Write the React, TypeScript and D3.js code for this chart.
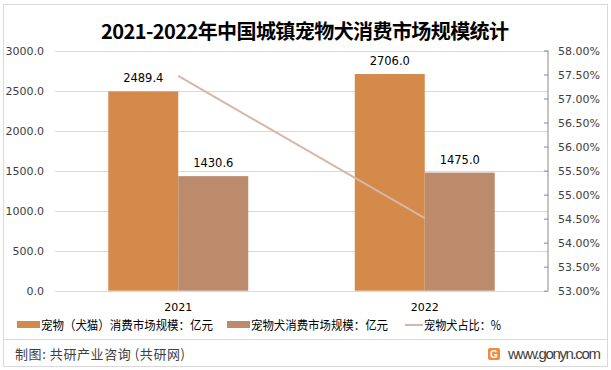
import React, { useEffect, useRef } from "react";
import * as d3 from "d3";

const years = ["2021", "2022"];
const petMarket = [2489.4, 2706.0];
const dogMarket = [1430.6, 1475.0];
const dogShare = [57.47, 54.51];
const leftTicks = [0, 500, 1000, 1500, 2000, 2500, 3000];
const rightTicks = [53, 53.5, 54, 54.5, 55, 55.5, 56, 56.5, 57, 57.5, 58];
const seriesNames = ["宠物（犬猫）消费市场规模：亿元", "宠物犬消费市场规模：亿元", "宠物犬占比：%"];

const W = 611;
const H = 370;
const font = "'Microsoft YaHei', 'Noto Sans CJK SC', sans-serif";
const numFont = "Verdana, 'DejaVu Sans', sans-serif";

const App = () => {
  const svgRef = useRef<SVGSVGElement>(null);

  useEffect(() => {
    const svg = d3.select(svgRef.current);
    svg.selectAll("*").remove();

    const left = 55;
    const right = 548;
    const top = 50.5;
    const bottom = 290.7;

    // 外框
    svg
      .append("rect")
      .attr("x", 3.5)
      .attr("y", 4.5)
      .attr("width", 604)
      .attr("height", 362)
      .attr("fill", "white")
      .attr("stroke", "#d9d9d9");

    // 标题
    svg
      .append("text")
      .attr("x", 305)
      .attr("y", 39)
      .attr("text-anchor", "middle")
      .attr("textLength", 408)
      .style("font-family", font)
      .style("font-size", "20px")
      .style("font-weight", "bold")
      .attr("fill", "#000")
      .text("2021-2022年中国城镇宠物犬消费市场规模统计");

    const x = d3.scaleBand().domain(years).range([left, right]);
    const y = d3.scaleLinear().domain([0, 3000]).range([bottom, top]);
    const y2 = d3.scaleLinear().domain([53, 58]).range([bottom, top]);
    const barW = 70;

    // 网格线
    svg
      .append("g")
      .selectAll("line")
      .data(leftTicks)
      .enter()
      .append("line")
      .attr("x1", left)
      .attr("x2", right)
      .attr("y1", (d) => Math.round(y(d)) + 0.5)
      .attr("y2", (d) => Math.round(y(d)) + 0.5)
      .attr("stroke", "#d9d9d9");

    // 左轴
    svg
      .append("g")
      .selectAll("text")
      .data(leftTicks)
      .enter()
      .append("text")
      .attr("x", 44)
      .attr("y", (d) => y(d) + 4.5)
      .attr("text-anchor", "end")
      .style("font-family", numFont)
      .style("font-size", "11px")
      .attr("fill", "#404040")
      .text((d) => d.toFixed(1));

    // 右轴
    const ra = svg
      .append("g")
      .attr("transform", `translate(${right},0)`)
      .call(d3.axisRight(y2).tickValues(rightTicks).tickSize(4).tickFormat((d) => (d as number).toFixed(2) + "%"));
    ra.selectAll(".domain").attr("stroke", "#888").attr("d", `M0,${top}V${bottom}`);
    ra.selectAll(".tick line").attr("stroke", "#888").attr("x2", -4);
    ra.selectAll("text")
      .attr("x", 10)
      .style("font-family", numFont)
      .style("font-size", "11px")
      .attr("fill", "#404040");

    // 柱
    const cx = (i: number) => (x(years[i]) as number) + x.bandwidth() / 2;
    const groups = [
      { vals: petMarket, color: "#d38a4b", dx: -barW },
      { vals: dogMarket, color: "#bb8b6b", dx: 0 },
    ];
    groups.forEach((g) => {
      svg
        .append("g")
        .selectAll("rect")
        .data(g.vals)
        .enter()
        .append("rect")
        .attr("x", (d, i) => cx(i) + g.dx)
        .attr("y", (d) => y(d))
        .attr("width", barW)
        .attr("height", (d) => y(0) - y(d))
        .attr("fill", g.color);
      svg
        .append("g")
        .selectAll("text")
        .data(g.vals)
        .enter()
        .append("text")
        .attr("x", (d, i) => cx(i) + g.dx + barW / 2)
        .attr("y", (d) => y(d) - 9)
        .attr("text-anchor", "middle")
        .style("font-family", numFont)
        .style("font-size", "11.5px")
        .attr("fill", "#000")
        .text((d) => d.toFixed(1));
    });

    // 占比折线
    const line = d3
      .line<number>()
      .x((d, i) => cx(i))
      .y((d) => y2(d));
    svg
      .append("path")
      .datum(dogShare)
      .attr("d", line)
      .attr("fill", "none")
      .attr("stroke", "#d8b5a6")
      .attr("stroke-width", 2);

    // 类别标签
    svg
      .append("g")
      .selectAll("text")
      .data(years)
      .enter()
      .append("text")
      .attr("x", (d, i) => cx(i))
      .attr("y", 311)
      .attr("text-anchor", "middle")
      .style("font-family", numFont)
      .style("font-size", "11px")
      .attr("fill", "#000")
      .text((d) => d);

    // 图例
    const legendX = [17, 227, 405];
    const legendLen = [172, 137, 77];
    const lg = svg.append("g");
    seriesNames.forEach((name, i) => {
      if (i < 2) {
        lg.append("rect")
          .attr("x", legendX[i])
          .attr("y", 321)
          .attr("width", 23)
          .attr("height", 7)
          .attr("fill", groups[i].color);
      } else {
        lg.append("line")
          .attr("x1", legendX[i])
          .attr("x2", legendX[i] + 18)
          .attr("y1", 325)
          .attr("y2", 325)
          .attr("stroke", "#d8b5a6")
          .attr("stroke-width", 2);
      }
      lg.append("text")
        .attr("x", legendX[i] + (i < 2 ? 24 : 19))
        .attr("y", 330)
        .attr("textLength", legendLen[i])
        .attr("lengthAdjust", "spacingAndGlyphs")
        .style("font-family", font)
        .style("font-size", "12.5px")
        .attr("fill", "#000")
        .text(name);
    });

    // 底部
    svg
      .append("line")
      .attr("x1", 4)
      .attr("x2", 607)
      .attr("y1", 339.5)
      .attr("y2", 339.5)
      .attr("stroke", "#d9d9d9");
    svg
      .append("text")
      .attr("x", 15)
      .attr("y", 359)
      .attr("textLength", 170)
      .style("font-family", font)
      .style("font-size", "13px")
      .attr("fill", "#404040")
      .text("制图: 共研产业咨询 (共研网)");
    svg
      .append("rect")
      .attr("x", 488)
      .attr("y", 348)
      .attr("width", 12)
      .attr("height", 12)
      .attr("rx", 2)
      .attr("fill", "#f28a3a");
    svg
      .append("text")
      .attr("x", 494)
      .attr("y", 358)
      .attr("text-anchor", "middle")
      .style("font-family", "Arial, sans-serif")
      .style("font-size", "10px")
      .style("font-weight", "bold")
      .attr("fill", "white")
      .text("G");
    svg
      .append("text")
      .attr("x", 508)
      .attr("y", 359)
      .attr("textLength", 93)
      .style("font-family", "Arial, 'Liberation Sans', sans-serif")
      .style("font-size", "15px")
      .attr("fill", "#404040")
      .text("www.gonyn.com");
  }, []);

  return (
    <div style={{ position: "absolute", left: 0, top: 0 }}>
      <svg ref={svgRef} width={W} height={H} />
    </div>
  );
};

export default App;
